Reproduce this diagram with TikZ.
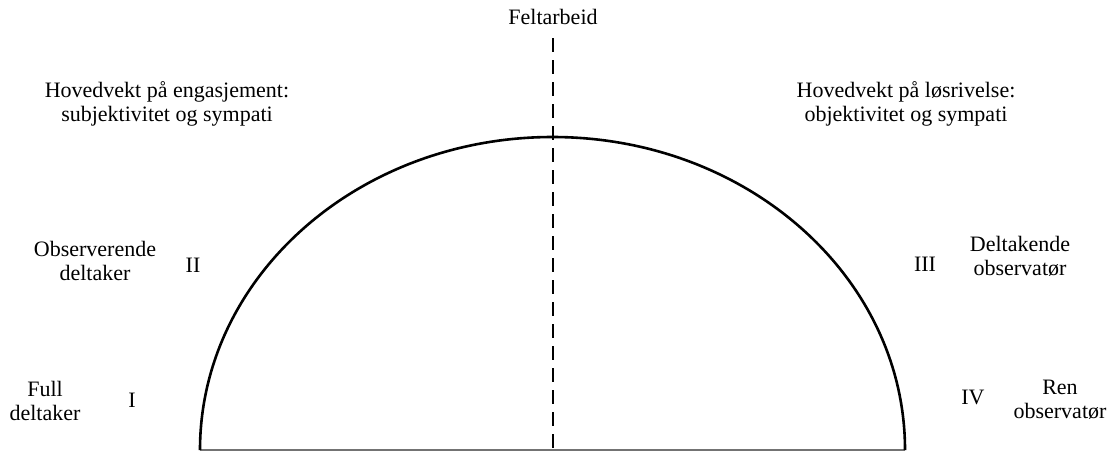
\documentclass[tikz,border=0pt]{standalone}
\usepackage{fontspec}
\setmainfont{Liberation Serif}
\usetikzlibrary{positioning}

\begin{document}
\begin{tikzpicture}[x=1pt, y=-1pt]
\tikzstyle{label} = [align=center, inner sep=0pt, font=\fontsize{22}{24}\selectfont]
\tikzstyle{roman} = [inner sep=0pt, font=\fontsize{22}{24}\selectfont]
\tikzstyle{curve} = [line width=2.6pt, black]
\tikzstyle{axis} = [line width=2pt, dash pattern=on 14pt off 8pt]
\tikzstyle{ground} = [line width=1.6pt, black!55]

\useasboundingbox (0,0) rectangle (1113,451);

\node (felt) [label] at (553,17) {Feltarbeid};
\node (engasjement) [label] at (167,104) {Hovedvekt på engasjement:\\subjektivitet og sympati};
\node (losrivelse) [label] at (906,104) {Hovedvekt på løsrivelse:\\objektivitet og sympati};

\node (observerende) [label] at (95,261) {Observerende\\deltaker};
\node (two) [roman] at (193,265) {II};
\node (full) [label] at (45,401) {Full\\deltaker};
\node (one) [roman] at (132,400) {I};

\node (three) [roman] at (925,264) {III};
\node (deltakende) [label] at (1020,256) {Deltakende\\observatør};
\node (four) [roman] at (973,397) {IV};
\node (ren) [label] at (1060,400) {Ren\\observatør};

\coordinate (left) at (200,450);
\coordinate (right) at (905,450);
\coordinate (top) at (553,38);
\coordinate (mid) at (553,450);

\draw [ground] (left) -- (right);
\draw [curve] (left) arc [start angle=180, end angle=360, x radius=352.5, y radius=313];
\draw [axis] (top) -- (mid);
\end{tikzpicture}
\end{document}
